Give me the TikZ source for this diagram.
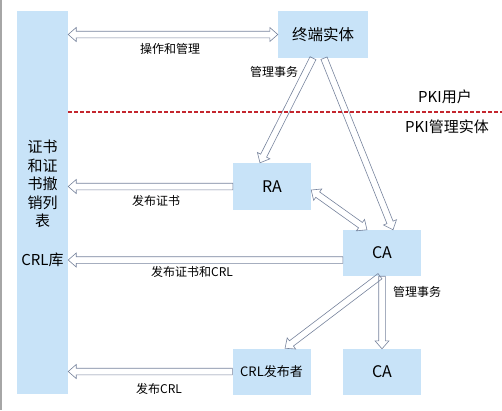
\documentclass[tikz,border=0pt]{standalone}
\usepackage{fontspec}
\setmainfont{Noto Sans CJK SC}
\usetikzlibrary{calc}
\definecolor{pkiblue}{HTML}{C8E3F8}
\definecolor{pkiarrow}{HTML}{76839C}
\definecolor{pkired}{HTML}{C4262E}

\begin{document}
\begin{tikzpicture}[
      x=1pt, y=-1pt,
      box/.style={fill=pkiblue, minimum width=78pt, minimum height=46pt,
                  inner sep=0pt, align=center, font=\fontsize{16}{19}\selectfont},
      lbl/.style={font=\fontsize{12}{14}\selectfont, inner sep=1pt},
      zone/.style={font=\fontsize{15}{18}\selectfont, inner sep=1pt},
      hollow/.style={draw=pkiarrow, line width=0.6pt, line join=miter,
        to path={let \p1=(\tikztostart), \p2=(\tikztotarget),
          \n1={atan2(\y2-\y1,\x2-\x1)}, \n2={veclen(\x2-\x1,\y2-\y1)} in
          [shift={(\p1)}, rotate=\n1]
          (0pt,-3.3pt) -- ({\n2*1pt-8pt},-3.3pt) -- ({\n2*1pt-8pt},-7pt) -- ({\n2*1pt},0pt)
          -- ({\n2*1pt-8pt},7pt) -- ({\n2*1pt-8pt},3.3pt) -- (0pt,3.3pt) -- cycle}},
      hollowboth/.style={draw=pkiarrow, line width=0.6pt, line join=miter,
        to path={let \p1=(\tikztostart), \p2=(\tikztotarget),
          \n1={atan2(\y2-\y1,\x2-\x1)}, \n2={veclen(\x2-\x1,\y2-\y1)} in
          [shift={(\p1)}, rotate=\n1]
          (0pt,0pt) -- (8pt,7pt) -- (8pt,3.3pt) -- ({\n2*1pt-8pt},3.3pt) -- ({\n2*1pt-8pt},7pt)
          -- ({\n2*1pt},0pt) -- ({\n2*1pt-8pt},-7pt) -- ({\n2*1pt-8pt},-3.3pt)
          -- (8pt,-3.3pt) -- (8pt,-7pt) -- cycle}}
    ]
    \useasboundingbox (0,0) rectangle (502,410);
    \draw[gray!70, line width=1.5pt] (1,0) -- (1,410);
    % ------------- repository -------------
    \node[box, minimum width=51pt, minimum height=383pt] (bar) at (42.5,202.5) {};
    \node[font=\fontsize{15}{18.6}\selectfont, align=center, inner sep=0pt] (bartxt) at (42.5,184)
      {证书\\和证\\书撤\\销列\\表};
    \node[font=\fontsize{15}{18}\selectfont, inner sep=0pt] (crlrepo) at (42.5,260) {CRL库};
    % ------------- entities -------------
    \node[box, minimum width=90pt, minimum height=47pt, font=\fontsize{15.5}{18}\selectfont] (ee) at (323,34.5) {终端实体};
    \node[box, minimum height=47pt] (ra) at (272,186.5) {RA};
    \node[box] (ca) at (382,253) {CA};
    \node[box, font=\fontsize{13}{16}\selectfont] (crl) at (271.5,371.5) {CRL发布者};
    \node[box] (ca2) at (382,372) {CA};
    % ------------- arrows -------------
    \draw[hollowboth] (ee.west -| bar.east) to (ee.west);
    \draw[hollow] ([xshift=-10pt]ee.south) to ([xshift=-12pt]ra.north);
    \draw[hollow] ([xshift=1pt]ee.south) to ([xshift=11pt]ca.north);
    \draw[hollowboth] ([yshift=-3.5pt]ra.east) to ([xshift=-15pt]ca.north);
    \draw[hollow] ([xshift=-2pt]ca.south) to ([xshift=13.5pt]crl.north);
    \draw[hollow] (ca.south) to (ca2.north);
    \draw[hollow] (ra.west) to (ra.west -| bar.east);
    \draw[hollow] ([yshift=-7pt]ca.west) to ([yshift=-7pt]ca.west -| bar.east);
    \draw[hollow] (crl.west) to (crl.west -| bar.east);
    % ------------- labels -------------
    \node[lbl] (lops) at (170,49) {操作和管理};
    \node[lbl] (lmgmt) at (274,72) {管理事务};
    \node[lbl] (lcert) at (156,201) {发布证书};
    \node[lbl] (lcertcrl) at (192,272) {发布证书和CRL};
    \node[lbl] (lmgmt2) at (417,292) {管理事务};
    \node[lbl] (lcrl) at (159,389) {发布CRL};
    % ------------- zones -------------
    \coordinate (dashend) at (502,112);
    \draw[pkired, line width=1.1pt, dash pattern=on 3.5pt off 2.5pt] (bar.east |- dashend) -- (dashend);
    \node[zone] (users) at (445,97) {PKI用户};
    \node[zone] (admins) at (447,127) {PKI管理实体};
\end{tikzpicture}
\end{document}
